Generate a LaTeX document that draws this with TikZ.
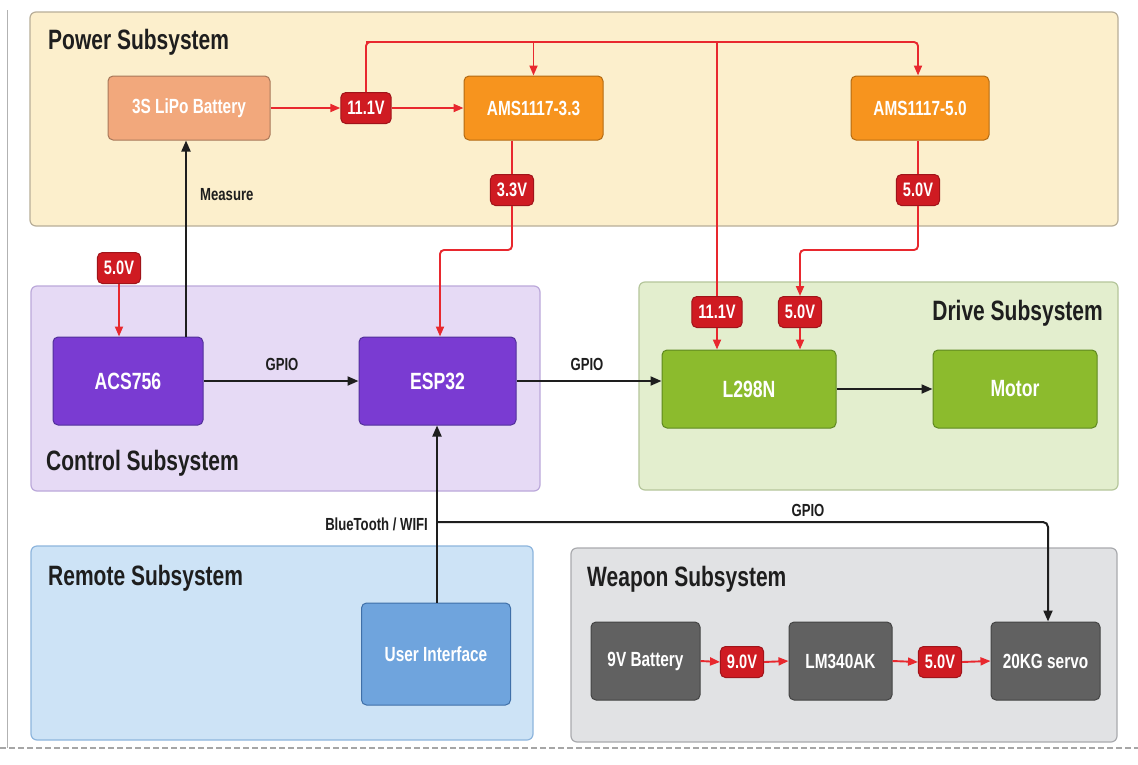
\documentclass[tikz,border=0pt]{standalone}
\usepackage{fontspec}
\setmainfont{Liberation Sans}[FakeStretch=0.75]
\usetikzlibrary{arrows.meta}
\definecolor{pwrfill}{HTML}{FCEFCC}
\definecolor{pwrdraw}{HTML}{B8AE98}
\definecolor{batfill}{HTML}{F2A87C}
\definecolor{batdraw}{HTML}{A8785A}
\definecolor{amsfill}{HTML}{F7941E}
\definecolor{amsdraw}{HTML}{B36A12}
\definecolor{ctlfill}{HTML}{E6DAF5}
\definecolor{ctldraw}{HTML}{BBA8DA}
\definecolor{purp}{HTML}{7A3BD2}
\definecolor{purpdraw}{HTML}{52309A}
\definecolor{drvfill}{HTML}{E3EECE}
\definecolor{drvdraw}{HTML}{B5C69B}
\definecolor{grn}{HTML}{8CBB2D}
\definecolor{grndraw}{HTML}{5E8820}
\definecolor{remfill}{HTML}{CDE3F6}
\definecolor{remdraw}{HTML}{8DB5DD}
\definecolor{uifill}{HTML}{6FA4DD}
\definecolor{uidraw}{HTML}{3F6FA8}
\definecolor{wpnfill}{HTML}{E1E2E4}
\definecolor{wpndraw}{HTML}{A9AAAE}
\definecolor{dgray}{HTML}{616161}
\definecolor{dgraydraw}{HTML}{444444}
\definecolor{lred}{HTML}{E8282E}
\definecolor{vred}{HTML}{CF1B22}
\definecolor{vreddraw}{HTML}{A0141A}
\definecolor{txt}{HTML}{1E1E1E}
\begin{document}
\begin{tikzpicture}[x=1pt,y=-1pt,
  grp/.style 2 args={draw=#2, fill=#1, line width=1.2pt, rounded corners=6pt},
  ttl/.style={font=\fontsize{28}{32}\selectfont\bfseries, text=txt, inner sep=0pt},
  blk/.style n args={4}{draw=#2, fill=#1, line width=1pt, rounded corners=5pt,
     text=white, inner sep=0pt, minimum width=#3, minimum height=#4,
     font=\fontsize{23.5}{27}\selectfont\bfseries},
  smallblk/.style={font=\fontsize{20.5}{24}\selectfont\bfseries},
  vlab/.style={draw=vreddraw, fill=vred, line width=1pt, rounded corners=5pt,
     text=white, inner xsep=6.5pt, inner ysep=0pt, minimum height=31pt,
     font=\fontsize{19.5}{22}\selectfont\bfseries},
  lbl/.style={font=\fontsize{17.5}{20}\selectfont\bfseries, text=txt, inner sep=0pt},
  redl/.style={draw=lred, line width=1.9pt, rounded corners=4pt},
  reda/.style={redl, -{Triangle[length=10pt,width=8pt]}},
  blkl/.style={draw=txt, line width=2pt, rounded corners=5pt},
  blka/.style={blkl, -{Triangle[length=11pt,width=9pt]}}
]
\useasboundingbox (0,0) rectangle (1138,764);
\fill[white] (0,0) rectangle (1138,764);
% frame of the page
\draw[draw=gray!60, line width=1pt] (7,10) -- (7,748);
\draw[draw=gray!70, line width=2.5pt, dash pattern=on 6pt off 3pt] (0,748) -- (1138,748);

% groups
\draw[grp={pwrfill}{pwrdraw}] (30,12) rectangle (1118,226);
\draw[grp={ctlfill}{ctldraw}] (31,286) rectangle (540,491);
\draw[grp={drvfill}{drvdraw}] (639,282) rectangle (1118,490);
\draw[grp={remfill}{remdraw}] (31,546) rectangle (533,740);
\draw[grp={wpnfill}{wpndraw}] (571,548) rectangle (1117,742);

\node[ttl, anchor=west] (tpwr) at (48,42) {Power Subsystem};
\node[ttl, anchor=west] (tctl) at (46,463) {Control Subsystem};
\node[ttl, anchor=east] (tdrv) at (1103,313) {Drive Subsystem};
\node[ttl, anchor=west] (trem) at (48,578) {Remote Subsystem};
\node[ttl, anchor=west] (twpn) at (587,579) {Weapon Subsystem};

% blocks
\node[blk={batfill}{batdraw}{162pt}{64pt}, smallblk] (bat) at (189,108) {3S LiPo Battery};
\node[blk={amsfill}{amsdraw}{139pt}{64pt}, smallblk] (ams33) at (533.5,108) {AMS1117-3.3};
\node[blk={amsfill}{amsdraw}{138pt}{64pt}, smallblk] (ams50) at (920,108) {AMS1117-5.0};
\node[blk={purp}{purpdraw}{150pt}{88pt}] (acs) at (128,381) {ACS756};
\node[blk={purp}{purpdraw}{157pt}{88pt}] (esp) at (437.5,381) {ESP32};
\node[blk={grn}{grndraw}{174pt}{78pt}] (l298) at (749,389) {L298N};
\node[blk={grn}{grndraw}{164pt}{78pt}] (motor) at (1015,389) {Motor};
\node[blk={uifill}{uidraw}{149pt}{102pt}, smallblk] (ui) at (436,654) {User Interface};
\node[blk={dgray}{dgraydraw}{109pt}{78pt}, smallblk] (bat9) at (645.5,661) {9V Battery};
\node[blk={dgray}{dgraydraw}{103pt}{78pt}, smallblk] (lm) at (840.5,661) {LM340AK};
\node[blk={dgray}{dgraydraw}{109pt}{78pt}, smallblk] (servo) at (1045.5,661) {20KG servo};

% voltage labels
\node[vlab] (v111) at (366,108) {11.1V};
\node[vlab] (v33) at (512,190) {3.3V};
\node[vlab] (v50a) at (918,190) {5.0V};
\node[vlab] (v50c) at (119,268) {5.0V};
\node[vlab] (v111d) at (717,312) {11.1V};
\node[vlab] (v50d) at (800,312) {5.0V};
\node[vlab] (v90) at (742,662) {9.0V};
\node[vlab] (v50w) at (940,662) {5.0V};

% routing points
\coordinate (top1) at (366,42);
\coordinate (top2) at (918,42);
\coordinate (c33a) at (512,250);
\coordinate (c33b) at (440,250);
\coordinate (c50a) at (918,250);
\coordinate (c50b) at (800,250);
\coordinate (gp) at (437,522);
\coordinate (gp2) at (1048,522);

% power red connectors
\draw[reda] (bat.east) -- (v111.west);
\draw[reda] (v111.east) -- (ams33.west);
\draw[redl] (v111.north) -- (top1) -- (top2 -| v111d.north);
\draw[reda] (top1) -- (top2) -- (ams50.north -| top2);
\draw[reda] (ams33.north |- top1) -- (ams33.north);
\draw[redl] (top2 -| v111d.north) -- (v111d.north);
\draw[reda] (v111d.south) -- (v111d.south |- l298.north);
\draw[redl] (ams33.south -| v33.north) -- (v33.north);
\draw[reda] (v33.south) -- (c33a) -- (c33b) -- (c33b |- esp.north);
\draw[redl] (ams50.south -| v50a.north) -- (v50a.north);
\draw[reda] (v50a.south) -- (c50a) -- (c50b) -- (v50d.north);
\draw[reda] (v50d.south) -- (v50d.south |- l298.north);
\draw[reda] (v50c.south) -- (v50c.south |- acs.north);
\draw[reda] (bat9.east) -- (v90.west);
\draw[reda] (v90.east) -- (lm.west);
\draw[reda] (lm.east) -- (v50w.west);
\draw[reda] (v50w.east) -- (servo.west);

% black connectors
\draw[blka] (acs.north -| 186,0) -- (bat.south -| 186,0);
\node[lbl, anchor=west] (lmeas) at (200,195) {Measure};
\draw[blka] (acs.east) -- (esp.west);
\node[lbl] (lgp1) at (282,364) {GPIO};
\draw[blka] (esp.east) -- (esp.east -| l298.west);
\node[lbl] (lgp2) at (587,364) {GPIO};
\draw[blka] (l298.east) -- (motor.west);
\draw[blka] (ui.north -| gp) -- (esp.south -| gp);
\node[lbl, anchor=east] (lbt) at (428,524) {BlueTooth / WIFI};
\draw[blka] (gp) -- (gp2) -- (gp2 |- servo.north);
\node[lbl] (lgp3) at (808,510) {GPIO};
\end{tikzpicture}
\end{document}
